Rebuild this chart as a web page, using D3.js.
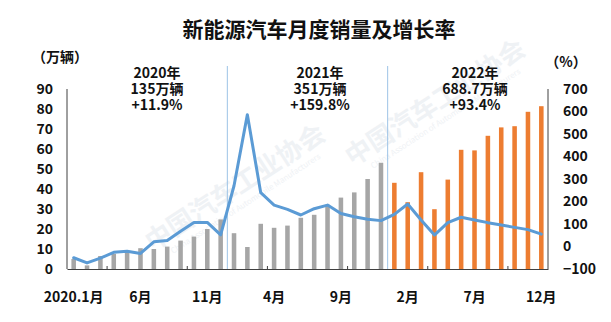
<!DOCTYPE html>
<html>
<head>
<meta charset="utf-8">
<script src="https://cdn.jsdelivr.net/npm/d3@7"></script>
<style>
  html, body { margin: 0; padding: 0; background: #fff; }
  svg { display: block; }
  text { font-family: "Noto Sans CJK SC", "Noto Sans", sans-serif; }
</style>
</head>
<body>
<svg id="chart" width="611" height="322"></svg>
<script>
// Monthly NEV sales (10k units) and year-over-year growth (%), Jan 2020 – Dec 2022
const sales2020 = [5.0, 1.8, 6.5, 7.6, 9.2, 10.4, 10.0, 11.2, 14.2, 16.2, 20.0, 24.8];
const sales2021 = [17.9, 11.0, 22.6, 20.6, 21.7, 25.6, 27.1, 32.1, 35.7, 38.3, 45.0, 53.1];
const sales2022 = [43.1, 33.4, 48.4, 29.9, 44.7, 59.6, 59.3, 66.6, 70.8, 71.4, 78.6, 81.4];

const growth2020 = [-50, -73, -52, -26, -21, -31, 21, 27, 68, 107, 107, 52];
const growth2021 = [270, 586, 239, 184, 165, 140, 168, 184, 147, 132, 121, 115];
const growth2022 = [143, 189, 118, 51, 106, 130, 118, 106, 96, 85, 75, 55];

const years = ["2020年", "2021年", "2022年"];
const yearTotals = ["135万辆", "351万辆", "688.7万辆"];
const yearGrowth = ["+11.9%", "+159.8%", "+93.4%"];

const xTickLabels = ["2020.1月", "6月", "11月", "4月", "9月", "2月", "7月", "12月"];
const leftTicks = [0, 10, 20, 30, 40, 50, 60, 70, 80, 90];
const rightTicks = [-100, 0, 100, 200, 300, 400, 500, 600, 700];

const title = "新能源汽车月度销量及增长率";
const leftUnit = "（万辆）";
const rightUnit = "（%）";

// Flatten into one monthly table
const salesAll = [sales2020, sales2021, sales2022];
const growthAll = [growth2020, growth2021, growth2022];
const data = [];
salesAll.forEach((arr, y) => arr.forEach((v, m) => {
  data.push({ i: y * 12 + m, year: y, sales: v, growth: growthAll[y][m] });
}));

const svg = d3.select("#chart");
const plot = { left: 67, right: 548, top: 89, bottom: 269 };

const x = d3.scaleBand()
  .domain(d3.range(data.length))
  .range([plot.left, plot.right])
  .paddingInner(0.66)
  .paddingOuter(0.33);
const step = x.step();
const cx = i => x(i) + x.bandwidth() / 2;

const yL = d3.scaleLinear().domain([0, 90]).range([plot.bottom, plot.top]);
const yR = d3.scaleLinear().domain([-100, 700]).range([plot.bottom, plot.top]);

// Faint watermark
const wm = svg.append("g").attr("pointer-events", "none");
[[240, 195], [440, 110]].forEach(([wx, wy]) => {
  const g = wm.append("g").attr("transform", `translate(${wx},${wy}) rotate(-33)`);
  g.append("text").attr("text-anchor", "middle")
    .attr("font-size", 26).attr("font-weight", 700)
    .attr("fill", "#eff2f5").text("中国汽车工业协会");
  g.append("text").attr("text-anchor", "middle").attr("y", 13)
    .attr("font-size", 8).attr("fill", "#eff2f5")
    .text("China Association of Automobile Manufacturers");
});

// Title and unit labels
svg.append("text").attr("x", 319).attr("y", 37)
  .attr("text-anchor", "middle").attr("font-size", 21).attr("font-weight", 700)
  .attr("fill", "#111").text(title);
svg.append("text").attr("x", 60).attr("y", 62)
  .attr("text-anchor", "middle").attr("font-size", 14).attr("font-weight", 700)
  .attr("fill", "#111").text(leftUnit);
svg.append("text").attr("x", 566).attr("y", 67)
  .attr("text-anchor", "middle").attr("font-size", 14).attr("font-weight", 700)
  .attr("fill", "#111").text(rightUnit);

// Year separators
[12, 24].forEach(b => {
  const bx = x(b) - step * 0.33;
  svg.append("line").attr("x1", bx).attr("x2", bx)
    .attr("y1", 66).attr("y2", plot.bottom)
    .attr("stroke", "#9dc3e6").attr("stroke-width", 1);
});

// Bars
svg.append("g").selectAll("rect").data(data).join("rect")
  .attr("x", d => x(d.i))
  .attr("width", x.bandwidth())
  .attr("y", d => yL(d.sales))
  .attr("height", d => yL(0) - yL(d.sales))
  .attr("fill", d => d.year < 2 ? "#a6a6a6" : "#ed7d31");

// Growth line
svg.append("path").datum(data)
  .attr("fill", "none").attr("stroke", "#5b9bd5")
  .attr("stroke-width", 3).attr("stroke-linejoin", "round").attr("stroke-linecap", "round")
  .attr("d", d3.line().x(d => cx(d.i)).y(d => yR(d.growth)));

// Axes
const axisColor = "#404040";
const gL = svg.append("g").attr("transform", `translate(${plot.left},0)`)
  .call(d3.axisLeft(yL).tickValues(leftTicks).tickSize(0).tickPadding(14).tickFormat(d3.format("d")));
const gR = svg.append("g").attr("transform", `translate(${plot.right},0)`)
  .call(d3.axisRight(yR).tickValues(rightTicks).tickSize(0).tickPadding(15).tickFormat(d3.format("d")));
const xTickIdx = d3.range(0, 36, 5);
const gX = svg.append("g").attr("transform", `translate(0,${plot.bottom})`)
  .call(d3.axisBottom(x).tickValues(xTickIdx).tickSize(0).tickPadding(23)
    .tickFormat((d, k) => xTickLabels[k]));

[gL, gR, gX].forEach(g => {
  g.select(".domain").attr("stroke", axisColor).attr("stroke-width", 1);
  g.selectAll("text").attr("font-size", 14).attr("font-weight", 700)
    .attr("fill", "#111").attr("font-family", "'Noto Sans CJK SC', sans-serif");
});
gL.select(".domain").attr("d", `M0,${plot.top}V${plot.bottom}`);
gR.select(".domain").attr("d", `M0,${plot.top}V${plot.bottom}`);

// Minor tick marks on the category axis
const minorIdx = d3.range(3, 36, 6);
svg.append("g").selectAll("line").data(minorIdx).join("line")
  .attr("x1", d => x(d) - step * 0.33).attr("x2", d => x(d) - step * 0.33)
  .attr("y1", plot.bottom - 3).attr("y2", plot.bottom)
  .attr("stroke", axisColor).attr("stroke-width", 1);

// Annual summaries above each year block
const centers = [157, 320, 475];
years.forEach((yr, k) => {
  const t = svg.append("text").attr("text-anchor", "middle")
    .attr("font-size", 14).attr("font-weight", 700).attr("fill", "#111");
  [yr, yearTotals[k], yearGrowth[k]].forEach((s, j) => {
    t.append("tspan").attr("x", centers[k]).attr("y", 78 + j * 16).text(s);
  });
});
</script>
</body>
</html>
